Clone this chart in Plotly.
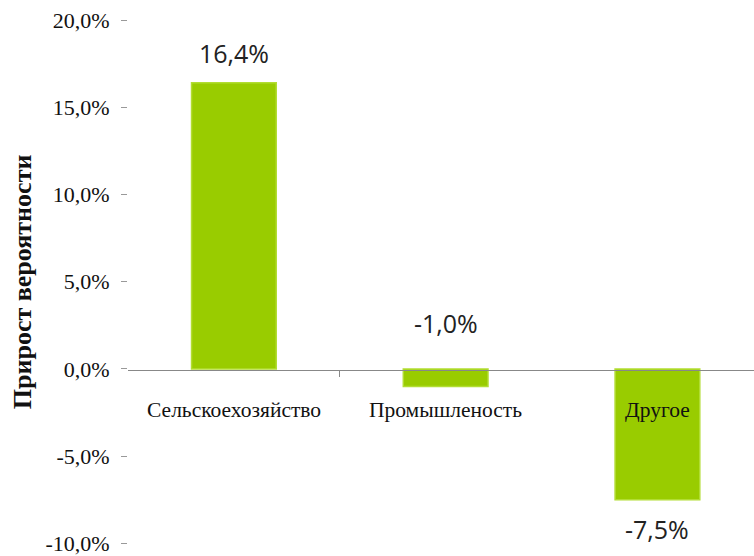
import plotly.graph_objects as go

categories = ["Сельскоехозяйство", "Промышленость", "Другое"]
values = [16.4, -1.0, -7.5]
y_ticks = [-10, -5, 0, 5, 10, 15, 20]
y_title = "Прирост вероятности"

bar_color = "#99CC00"
edge_color = "#B2DD33"


def fmt(v):
    return f"{v:.1f}".replace(".", ",") + "%"


fig = go.Figure()
fig.add_trace(go.Bar(
    x=list(range(len(categories))), y=values, width=0.40,
    marker=dict(color=bar_color, line=dict(color=edge_color, width=1.5)),
    hoverinfo="skip",
))

# data labels
label_shift = {0: 30, 1: 46, 2: -29}
for i, v in enumerate(values):
    ref_y = v if i != 1 else 0
    fig.add_annotation(x=i, y=ref_y, text=fmt(v), showarrow=False,
                       yshift=label_shift[i],
                       font=dict(family="Open Sans", size=25, color="#222222"))

# category labels under the zero line
for i, c in enumerate(categories):
    fig.add_annotation(x=i, y=0, text=c, showarrow=False, yshift=-41,
                       font=dict(family="Liberation Serif", size=21.5, color="#111111"))

# y-axis title
fig.add_annotation(xref="paper", yref="paper", x=-0.169, y=0.5, text="<b>" + y_title + "</b>",
                   textangle=-90, showarrow=False, xanchor="center", yanchor="middle",
                   font=dict(family="Liberation Serif", size=26, color="#111111"))

fig.update_layout(
    width=754, height=556,
    margin=dict(l=128, r=0, t=20, b=8),
    plot_bgcolor="white", paper_bgcolor="white",
    showlegend=False,
    xaxis=dict(range=[-0.5, 2.456], anchor="free", position=10 / 30.03,
               showgrid=False, zeroline=False, showline=True,
               linecolor="#888888", linewidth=1.2,
               tickvals=[0.5], ticks="outside", ticklen=6, tickcolor="#888888",
               showticklabels=False, fixedrange=True),
    yaxis=dict(range=[-10.03, 20], tickvals=y_ticks, ticktext=[fmt(t) for t in y_ticks],
               showgrid=False, zeroline=False, showline=False,
               ticks="outside", ticklen=6, tickcolor="#999999",
               ticklabelstandoff=7, ticklabeloverflow="allow",
               tickfont=dict(family="Liberation Serif", size=22, color="#111111")),
)

fig.write_html("out.html")
